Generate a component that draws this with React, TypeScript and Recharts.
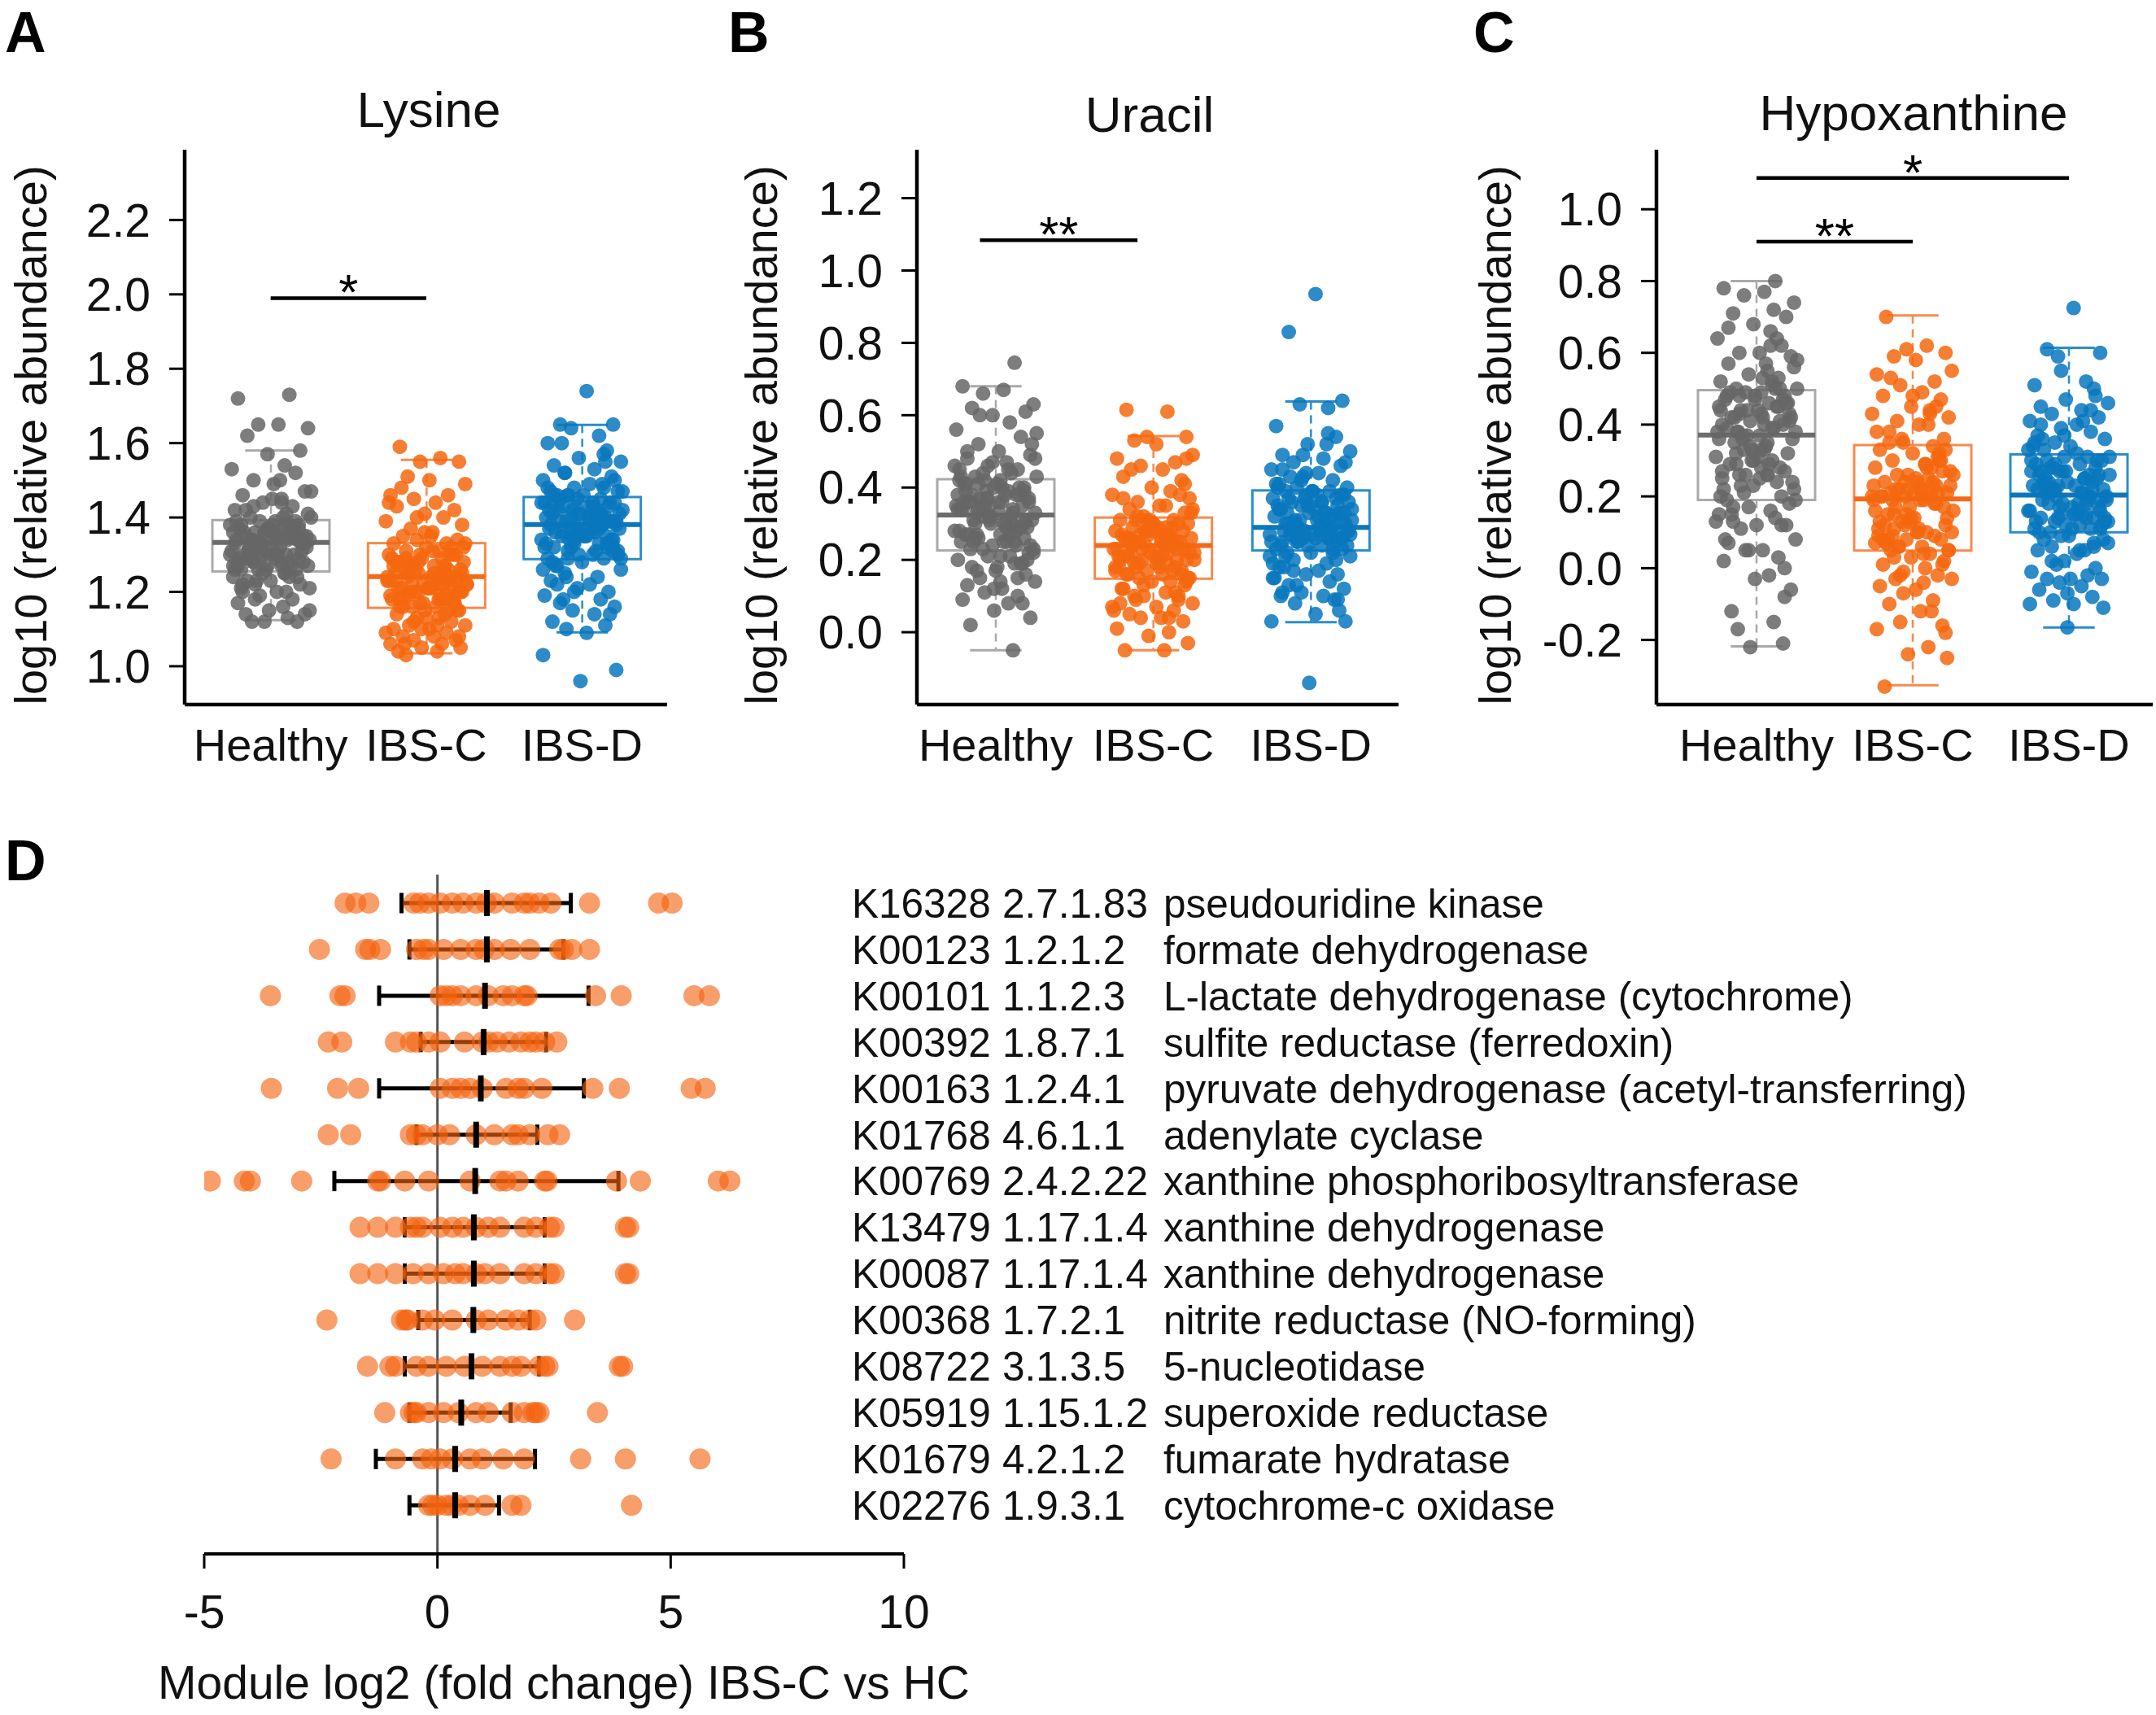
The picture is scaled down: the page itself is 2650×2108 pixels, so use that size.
import React from 'react';
import { ComposedChart, Scatter, Bar, XAxis, YAxis, ReferenceLine, ErrorBar } from 'recharts';

const FONT = '"Liberation Sans", Arial, Helvetica, sans-serif';

const GROUPS = ['Healthy', 'IBS-C', 'IBS-D'];

// hand-estimated horizontal jitter of the points (category units)
const JIT_1 = [0.12,-0.21,0.05,-0.08,0.24,-0.15,0.19,-0.02,0.09,-0.25,0.16,-0.11,0.02,0.22,-0.18,0.07,-0.05,0.14,-0.23,0.1,-0.13,0.26,-0.07,0.03,-0.19,0.18,-0.01,0.08,-0.24,0.13,-0.1,0.21,-0.16,0.04,-0.04,0.17,-0.22,0.11,-0.12,0.25,-0.06,0.01,-0.2,0.15,-0.09,0.23,-0.14,0.06,-0.03,0.2,-0.26,0.1,-0.17,0.03,0.18,-0.11,0.07,-0.22,0.13,-0.02,0.24,-0.08,0.16,-0.19,0.05,-0.13,0.21,-0.05,0.09,-0.24,0.12,-0.15,0.0,0.19,-0.1,0.25,-0.18,0.04,-0.07,0.14,-0.21,0.08,-0.01,0.22,-0.16,0.11,-0.12,0.17,-0.04,0.02,-0.23,0.15];
const JIT_2 = [-0.17,0.09,-0.04,0.21,-0.12,0.02,0.25,-0.23,0.14,-0.08,0.06,-0.19,0.18,-0.01,0.11,-0.26,0.23,-0.1,0.04,-0.15,0.2,-0.06,0.13,-0.21,0.0,0.16,-0.13,0.08,-0.24,0.19,-0.03,0.1,-0.18,0.24,-0.09,0.05,-0.14,0.22,-0.05,0.12,-0.2,0.03,0.17,-0.11,0.07,-0.25,0.15,-0.02,0.26,-0.16,0.01,-0.07,0.21,-0.12,0.09,-0.22,0.14,-0.04,0.18,-0.17,0.06,-0.09,0.23,-0.14,0.03,-0.24,0.11,-0.01,0.2,-0.19,0.08,-0.06,0.16,-0.11,0.25,-0.21,0.02,0.13,-0.15,0.05,-0.08,0.19,-0.23,0.1,-0.03,0.22,-0.18,0.07,-0.13,0.15,-0.05,0.12];
const JIT_3 = [0.03,-0.14,0.2,-0.07,0.11,-0.22,0.16,-0.02,0.25,-0.18,0.08,-0.11,0.19,-0.25,0.05,-0.05,0.14,-0.2,0.23,-0.09,0.01,-0.16,0.12,-0.03,0.21,-0.24,0.07,-0.12,0.17,-0.06,0.26,-0.19,0.1,-0.01,0.15,-0.23,0.04,-0.1,0.22,-0.15,0.09,-0.04,0.18,-0.21,0.13,-0.08,0.24,-0.17,0.06,-0.13,0.02,-0.26,0.2,-0.05,0.11,-0.18,0.16,-0.09,0.23,-0.02,0.07,-0.22,0.14,-0.12,0.19,-0.07,0.0,-0.16,0.25,-0.11,0.1,-0.2,0.05,-0.03,0.17,-0.24,0.12,-0.14,0.21,-0.06,0.08,-0.19,0.15,-0.1,0.03,-0.25,0.22,-0.01,0.13,-0.15];

// ---------- Panel A: Lysine ----------
const LYS_HEALTHY = [1.73,1.72,1.65,1.65,1.64,1.62,1.58,1.57,1.54,1.53,1.52,1.5,1.49,1.47,1.46,1.45,1.44,1.43,1.42,1.41,1.4,1.4,
  1.39,1.39,1.38,1.38,1.37,1.37,1.36,1.36,1.36,1.35,1.35,1.35,1.35,1.34,1.34,1.34,1.34,1.34,1.33,1.38,1.37,1.36,
  1.33,1.32,1.32,1.32,1.31,1.31,1.3,1.3,1.3,1.29,1.29,1.28,1.28,1.28,1.27,1.27,1.27,1.26,1.26,1.26,1.31,1.29,1.28,
  1.25,1.25,1.24,1.24,1.23,1.23,1.22,1.22,1.21,1.2,1.2,1.19,1.18,1.17,1.16,1.15,1.14,1.14,1.13,1.12,1.12,1.12,
  1.36,1.33,1.3,1.38,1.27,1.35,1.32,1.41,1.29,1.34,1.37,1.25,1.31,1.39,1.28,1.36,1.33,1.22,1.44,1.3,1.35,1.26,1.38,1.32,1.47,1.29,1.34,1.21,1.37,1.31,
  1.4,1.27,1.35,1.18,1.33,1.42,1.3,1.36,1.24,1.39,1.28,1.34,1.15,1.32,1.45,1.29,1.37,1.23,1.35,1.31,1.5,1.26,1.33,1.38,1.2,1.36,1.3,1.34,1.43,1.27];
const LYS_IBSC = [1.59,1.56,1.55,1.55,1.51,1.5,1.49,1.46,1.46,1.45,1.44,1.43,1.42,1.41,1.4,1.39,1.38,1.37,1.36,1.35,1.34,1.34,
  1.33,1.33,1.32,1.32,1.31,1.31,1.3,1.3,1.29,1.29,1.28,1.28,1.27,1.27,1.26,1.26,1.25,1.25,1.25,1.24,1.3,1.28,
  1.24,1.23,1.23,1.22,1.22,1.21,1.21,1.2,1.2,1.19,1.19,1.18,1.18,1.17,1.17,1.16,1.16,1.22,1.2,1.19,1.21,1.23,1.18,
  1.15,1.15,1.14,1.13,1.13,1.12,1.11,1.11,1.1,1.1,1.09,1.08,1.08,1.07,1.07,1.06,1.06,1.05,1.05,1.04,1.04,1.03,
  1.24,1.2,1.27,1.18,1.22,1.3,1.15,1.25,1.21,1.33,1.19,1.26,1.12,1.23,1.28,1.17,1.36,1.22,1.09,1.25,1.2,1.31,1.16,1.24,1.4,1.19,1.27,1.13,1.22,1.29,
  1.18,1.44,1.23,1.1,1.26,1.21,1.32,1.16,1.25,1.06,1.2,1.28,1.14,1.23,1.35,1.19,1.27,1.11,1.24,1.3,1.17,1.22,1.48,1.21,1.26,1.08,1.24,1.18,1.29,1.15];
const LYS_IBSD = [1.74,1.65,1.65,1.64,1.62,1.6,1.58,1.56,1.55,1.54,1.53,1.52,1.51,1.5,1.49,1.48,1.48,1.47,1.47,1.46,1.46,1.46,
  1.45,1.45,1.44,1.44,1.43,1.43,1.43,1.42,1.42,1.41,1.41,1.41,1.4,1.4,1.4,1.39,1.39,1.39,1.38,1.38,1.44,1.42,
  1.38,1.37,1.37,1.36,1.36,1.35,1.35,1.34,1.34,1.33,1.33,1.32,1.32,1.31,1.31,1.3,1.3,1.29,1.29,1.36,1.34,1.32,
  1.28,1.27,1.26,1.25,1.24,1.23,1.22,1.21,1.2,1.19,1.18,1.17,1.16,1.15,1.14,1.12,1.11,1.1,1.09,1.03,0.99,0.96,
  1.38,1.42,1.35,1.45,1.31,1.4,1.37,1.48,1.33,1.41,1.29,1.44,1.36,1.52,1.39,1.26,1.43,1.34,1.57,1.38,1.3,1.46,1.35,1.22,1.41,1.37,1.5,1.32,1.44,1.18,
  1.39,1.35,1.47,1.28,1.42,1.36,1.55,1.33,1.4,1.24,1.38,1.45,1.31,1.43,1.14,1.37,1.49,1.34,1.41,1.27,1.39,1.6,1.36,1.44,1.32,1.2,1.4,1.46,1.35,1.29];
// [lower whisker, Q1, median, Q3, upper whisker]
const LYS_STATS = [[1.124,1.255,1.333,1.393,1.58],[1.035,1.157,1.241,1.331,1.555],[1.091,1.288,1.381,1.455,1.649]];
const LYS_TICKS = [1.0,1.2,1.4,1.6,1.8,2.0,2.2];
const LYS_DOMAIN = [0.897, 2.389];
const LYS_SIG = [{ from: 1, to: 2, y: 1.99, mark: '*' }];

// ---------- Panel B: Uracil ----------
const URA_HEALTHY = [0.745,0.68,0.67,0.66,0.63,0.62,0.61,0.6,0.58,0.56,0.54,0.52,0.5,0.49,0.48,0.47,0.46,0.45,0.45,0.44,0.43,0.43,
  0.42,0.42,0.41,0.4,0.4,0.39,0.38,0.38,0.37,0.37,0.36,0.36,0.35,0.35,0.34,0.34,0.33,0.33,0.39,0.41,0.36,0.38,
  0.32,0.31,0.31,0.3,0.3,0.29,0.28,0.28,0.27,0.27,0.26,0.26,0.25,0.25,0.24,0.24,0.23,0.23,0.29,0.27,0.25,0.3,
  0.22,0.21,0.21,0.2,0.19,0.18,0.17,0.16,0.15,0.14,0.13,0.12,0.11,0.1,0.09,0.08,0.06,0.04,0.02,-0.05,0.17,0.19,
  0.32,0.36,0.28,0.4,0.25,0.34,0.3,0.44,0.22,0.38,0.31,0.47,0.27,0.35,0.19,0.41,0.33,0.24,0.5,0.29,0.37,0.15,0.42,0.32,0.26,0.55,0.35,0.21,0.39,0.3,
  0.12,0.45,0.34,0.28,0.6,0.36,0.23,0.4,0.31,0.08,0.43,0.33,0.27,0.48,0.37,0.18,0.41,0.29,0.35,0.52,0.25,0.38,0.32,0.2,0.46,0.3,0.36,0.14,0.39,0.34];
const URA_IBSC = [0.615,0.61,0.54,0.54,0.53,0.52,0.49,0.48,0.47,0.46,0.45,0.43,0.42,0.4,0.39,0.38,0.37,0.36,0.35,0.34,0.33,0.32,
  0.31,0.31,0.3,0.3,0.29,0.29,0.28,0.28,0.27,0.27,0.26,0.26,0.25,0.25,0.24,0.3,0.28,0.26,0.27,0.29,0.25,0.31,
  0.24,0.23,0.23,0.22,0.22,0.21,0.21,0.2,0.2,0.19,0.19,0.18,0.18,0.17,0.17,0.16,0.16,0.15,0.15,0.22,0.2,0.18,
  0.14,0.14,0.13,0.12,0.11,0.1,0.1,0.09,0.08,0.08,0.07,0.06,0.05,0.04,0.04,0.03,0.01,0.0,-0.01,-0.03,-0.05,-0.05,
  0.24,0.2,0.28,0.17,0.26,0.22,0.31,0.14,0.25,0.19,0.34,0.23,0.11,0.27,0.21,0.37,0.16,0.29,0.24,0.07,0.22,0.32,0.18,0.26,0.41,0.13,0.24,0.2,0.3,0.09,
  0.25,0.35,0.17,0.23,0.28,0.04,0.21,0.33,0.19,0.26,0.45,0.15,0.24,0.29,0.12,0.22,0.38,0.18,0.27,0.06,0.25,0.31,0.2,0.16,0.28,0.23,0.48,0.1,0.26,0.21];
const URA_IBSD = [0.935,0.83,0.64,0.63,0.62,0.57,0.54,0.52,0.5,0.49,0.48,0.47,0.46,0.45,0.44,0.43,0.42,0.41,0.4,0.4,0.39,0.39,
  0.39,0.38,0.38,0.37,0.36,0.36,0.35,0.35,0.34,0.34,0.33,0.33,0.32,0.32,0.31,0.31,0.3,0.3,0.29,0.37,0.33,0.35,
  0.29,0.29,0.28,0.28,0.28,0.27,0.27,0.27,0.26,0.26,0.26,0.25,0.25,0.25,0.24,0.24,0.24,0.23,0.23,0.28,0.26,0.27,
  0.22,0.21,0.21,0.2,0.19,0.18,0.17,0.16,0.16,0.15,0.14,0.13,0.12,0.11,0.1,0.1,0.09,0.08,0.05,0.03,0.03,-0.14,
  0.29,0.33,0.26,0.37,0.23,0.31,0.28,0.41,0.2,0.35,0.27,0.45,0.3,0.17,0.38,0.25,0.32,0.49,0.22,0.34,0.28,0.13,0.39,0.3,0.26,0.44,0.33,0.19,0.36,0.29,
  0.09,0.42,0.31,0.24,0.52,0.35,0.27,0.15,0.38,0.3,0.47,0.22,0.33,0.28,0.06,0.4,0.32,0.25,0.36,0.18,0.29,0.43,0.34,0.21,0.31,0.27,0.55,0.11,0.37,0.26];
const URA_STATS = [[-0.05,0.226,0.324,0.423,0.68],[-0.05,0.148,0.24,0.317,0.542],[0.028,0.226,0.29,0.392,0.638]];
const URA_TICKS = [0.0,0.2,0.4,0.6,0.8,1.0,1.2];
const URA_DOMAIN = [-0.2, 1.334];
const URA_SIG = [{ from: 0.9, to: 1.9, y: 1.084, mark: '**' }];

// ---------- Panel C: Hypoxanthine ----------
const HYP_HEALTHY = [0.8,0.78,0.77,0.76,0.74,0.71,0.7,0.68,0.66,0.64,0.62,0.6,0.6,0.59,0.57,0.55,0.54,0.53,0.52,0.51,0.5,0.5,
  0.49,0.49,0.48,0.48,0.47,0.46,0.45,0.45,0.44,0.43,0.42,0.42,0.41,0.4,0.4,0.39,0.38,0.38,0.37,0.44,0.47,0.41,
  0.37,0.36,0.35,0.34,0.33,0.32,0.31,0.3,0.29,0.28,0.27,0.26,0.26,0.25,0.24,0.23,0.22,0.21,0.2,0.19,0.33,0.29,
  0.18,0.17,0.16,0.15,0.14,0.13,0.12,0.12,0.11,0.08,0.07,0.05,0.05,0.03,0.02,-0.02,-0.03,-0.06,-0.12,-0.15,-0.17,-0.21,-0.22,
  0.37,0.44,0.28,0.5,0.22,0.4,0.33,0.56,0.17,0.46,0.3,0.62,0.38,0.12,0.48,0.25,0.42,0.67,0.35,0.05,0.45,0.2,0.52,0.32,0.58,0.26,0.43,0.39,0.0,0.48,
  0.29,0.36,0.64,0.23,0.41,0.15,0.53,0.34,0.47,0.27,0.72,0.38,0.19,0.44,0.31,0.08,0.5,0.36,0.24,0.42,0.57,0.3,0.46,0.13,0.39,0.49,0.33,-0.08,0.43,0.26];
const HYP_IBSC = [0.7,0.62,0.61,0.6,0.59,0.58,0.55,0.54,0.52,0.51,0.49,0.48,0.47,0.45,0.44,0.43,0.42,0.41,0.4,0.38,0.36,0.35,
  0.34,0.33,0.32,0.31,0.3,0.29,0.28,0.27,0.26,0.25,0.24,0.23,0.22,0.22,0.21,0.21,0.2,0.2,0.2,0.24,0.3,0.22,
  0.19,0.19,0.18,0.17,0.16,0.15,0.14,0.13,0.12,0.11,0.1,0.09,0.09,0.08,0.08,0.07,0.06,0.06,0.05,0.05,0.1,0.07,
  0.04,0.03,0.02,0.01,0.0,-0.01,-0.02,-0.03,-0.03,-0.05,-0.06,-0.09,-0.1,-0.12,-0.15,-0.16,-0.17,-0.22,-0.24,-0.25,-0.33,-0.04,
  0.19,0.23,0.12,0.28,0.07,0.21,0.15,0.33,0.03,0.25,0.1,0.38,0.18,-0.02,0.22,0.08,0.3,0.14,0.43,0.2,0.05,0.26,0.11,0.35,0.17,-0.07,0.24,0.13,0.48,0.21,
  0.09,0.29,0.16,0.01,0.22,0.4,0.12,0.27,0.06,0.19,0.53,0.14,0.24,-0.12,0.2,0.1,0.32,0.17,0.04,0.23,0.45,0.13,0.26,0.08,0.21,0.36,-0.18,0.15,0.28,0.11];
const HYP_IBSD = [0.725,0.61,0.6,0.59,0.52,0.51,0.5,0.47,0.46,0.45,0.44,0.43,0.42,0.41,0.4,0.39,0.38,0.37,0.36,0.35,0.34,0.33,
  0.31,0.31,0.3,0.3,0.29,0.28,0.28,0.27,0.26,0.26,0.25,0.24,0.24,0.23,0.23,0.22,0.22,0.21,0.21,0.27,0.25,0.29,
  0.2,0.2,0.19,0.19,0.18,0.18,0.17,0.16,0.16,0.15,0.15,0.14,0.14,0.13,0.13,0.12,0.12,0.11,0.11,0.1,0.17,0.14,
  0.09,0.08,0.07,0.06,0.05,0.05,0.04,0.02,0.0,-0.01,-0.02,-0.03,-0.03,-0.04,-0.05,-0.06,-0.08,-0.09,-0.1,-0.1,-0.11,-0.165,
  0.2,0.25,0.15,0.3,0.11,0.23,0.18,0.35,0.07,0.27,0.13,0.4,0.21,0.02,0.26,0.16,0.32,0.09,0.44,0.22,0.14,0.29,-0.03,0.24,0.19,0.37,0.12,0.27,0.05,0.21,
  0.48,0.17,0.31,0.1,0.25,-0.07,0.22,0.34,0.15,0.28,0.08,0.23,0.41,0.18,0.3,0.13,0.26,0.01,0.2,0.36,0.16,0.24,0.11,0.33,0.19,0.55,0.14,0.27,0.06,0.22];
const HYP_STATS = [[-0.218,0.19,0.371,0.496,0.8],[-0.326,0.049,0.193,0.343,0.704],[-0.165,0.1,0.204,0.317,0.614]];
const HYP_TICKS = [-0.2,0.0,0.2,0.4,0.6,0.8,1.0];
const HYP_DOMAIN = [-0.38, 1.166];
const HYP_SIG = [{ from: 1, to: 2, y: 0.91, mark: '**' }, { from: 1, to: 3, y: 1.087, mark: '*' }];

// ---------- Panel D ----------
const KO_IDS = ['K16328','K00123','K00101','K00392','K00163','K01768','K00769','K13479','K00087','K00368','K08722','K05919','K01679','K02276'];
const EC_NUMS = ['2.7.1.83','1.2.1.2','1.1.2.3','1.8.7.1','1.2.4.1','4.6.1.1','2.4.2.22','1.17.1.4','1.17.1.4','1.7.2.1','3.1.3.5','1.15.1.2','4.2.1.2','1.9.3.1'];
const ENZYMES = ['pseudouridine kinase','formate dehydrogenase','L-lactate dehydrogenase (cytochrome)','sulfite reductase (ferredoxin)','pyruvate dehydrogenase (acetyl-transferring)','adenylate cyclase','xanthine phosphoribosyltransferase','xanthine dehydrogenase','xanthine dehydrogenase','nitrite reductase (NO-forming)','5-nucleotidase','superoxide reductase','fumarate hydratase','cytochrome-c oxidase'];
const FC_POINTS = [
  [-1.98,-1.75,-1.47,-0.51,-0.38,-0.19,0.06,0.32,0.55,0.83,1.05,1.22,1.6,1.86,1.98,2.18,2.43,3.26,4.74,5.03],
  [-2.53,-1.54,-1.45,-1.22,-0.45,-0.3,-0.19,0.13,0.5,0.83,1.0,1.22,1.57,1.98,2.62,2.7,2.88,3.26],
  [-3.58,-2.09,-1.98,0.06,0.19,0.32,0.5,0.83,1.09,1.41,1.6,1.86,1.92,3.39,3.94,5.5,5.83],
  [-2.34,-2.05,-0.9,-0.58,-0.45,-0.19,0.06,0.58,0.96,1.1,1.28,1.54,1.79,1.98,2.11,2.3,2.56],
  [-3.56,-2.14,-1.69,0.06,0.32,0.5,0.7,0.96,1.47,1.73,1.86,2.24,3.33,3.9,5.44,5.74],
  [-2.34,-1.86,-0.58,-0.45,-0.32,0,0.26,0.83,1.22,1.6,1.73,1.98,2.37,2.62],
  [-4.87,-4.14,-4.01,-2.91,-1.28,-1.22,-0.7,-0.19,0.7,1.34,1.47,1.73,2.3,2.35,3.84,4.35,6.02,6.27],
  [-1.66,-1.28,-0.9,-0.58,-0.45,-0.32,0.06,0.32,0.55,0.83,1.09,1.34,1.86,2.11,2.4,2.5,4.03,4.1],
  [-1.66,-1.28,-0.9,-0.52,-0.19,0.13,0.38,0.55,0.83,1.02,1.34,1.86,2.11,2.4,2.5,4.03,4.1],
  [-2.37,-0.77,-0.68,-0.64,-0.32,-0.06,0.32,0.83,1.09,1.47,1.73,1.98,2.11,2.94],
  [-1.5,-1.02,-0.9,-0.45,-0.19,0.19,0.58,0.96,1.34,1.6,1.79,2.18,2.3,2.37,3.9,3.97],
  [-1.13,-0.58,-0.5,-0.45,-0.19,0.13,0.45,0.83,1.09,1.6,1.86,2.05,2.11,2.18,3.43],
  [-2.28,-0.9,-0.32,-0.13,0.06,0.32,0.7,0.96,1.41,1.86,3.07,4.03,5.63],
  [-0.19,-0.1,0,0.19,0.3,0.45,0.7,1.02,1.6,1.79,4.16],
];
const FC_MEAN = [1.06,1.06,1.02,0.99,0.93,0.83,0.81,0.78,0.78,0.77,0.73,0.51,0.38,0.38];
const FC_LOW = [-0.77,-0.6,-1.25,-0.36,-1.25,-0.45,-2.21,-0.7,-0.7,-0.41,-0.7,-0.6,-1.32,-0.6];
const FC_HIGH = [2.86,2.7,3.24,2.33,3.14,2.14,3.88,2.3,2.3,1.98,2.18,1.57,2.09,1.32];
const FC_TICKS = [-5, 0, 5, 10];

// ---------- styles ----------
const DOT_COLORS = ['#666666', '#f5670f', '#0877bd'];
const BOX_COLORS = ['#a9a9a9', '#f78a4c', '#2a8dcb'];
const MED_COLORS = ['#6c6c6c', '#f26a1a', '#0c77ba'];
const JITTERS = [JIT_1, JIT_2, JIT_3];

function BoxShape(props: any) {
  const { x, y, width, height, payload, index } = props;
  const [lo, q1, med, q3, hi] = payload.stats;
  const top = Math.min(y, y + height);
  const h = Math.abs(height);
  const py = (v: number) => top + ((hi - v) / (hi - lo)) * h;
  const cx = x + width / 2;
  const cap = width * 0.22;
  const c = BOX_COLORS[index];
  return (
    <g>
      <line x1={cx} x2={cx} y1={py(hi)} y2={py(q3)} stroke={c} strokeWidth={2.5} strokeDasharray="10 7" />
      <line x1={cx} x2={cx} y1={py(q1)} y2={py(lo)} stroke={c} strokeWidth={2.5} strokeDasharray="10 7" />
      <line x1={cx - cap} x2={cx + cap} y1={py(hi)} y2={py(hi)} stroke={c} strokeWidth={3} />
      <line x1={cx - cap} x2={cx + cap} y1={py(lo)} y2={py(lo)} stroke={c} strokeWidth={3} />
      <rect x={x} y={py(q3)} width={width} height={py(q1) - py(q3)} fill="none" stroke={c} strokeWidth={3} />
      <line x1={x} x2={x + width} y1={py(med)} y2={py(med)} stroke={MED_COLORS[index]} strokeWidth={6} />
    </g>
  );
}

type PanelProps = {
  left: number; width: number; axisW: number; marginRight: number;
  pad: { left: number; right: number };
  domain: number[]; ticks: number[]; values: number[][]; stats: number[][];
  sig: { from: number; to: number; y: number; mark: string }[];
};

function BoxPanel({ left, width, axisW, marginRight, pad, domain, ticks, values, stats, sig }: PanelProps) {
  const boxes = GROUPS.map((name, i) => ({ name, range: [stats[i][0], stats[i][4]], stats: stats[i] }));
  return (
    <div style={{ position: 'absolute', left, top: 0 }}>
      <ComposedChart width={width} height={1000} data={boxes} margin={{ top: 184, right: marginRight, bottom: 0, left: 0 }}>
        <XAxis xAxisId="c" dataKey="name" type="category" height={134} padding={pad} interval={0}
          axisLine={{ stroke: '#000', strokeWidth: 4.5 }} tickLine={false} tickSize={0} tickMargin={29}
          tick={{ fontSize: 56, fill: '#111', fontFamily: FONT }} />
        <XAxis xAxisId="j" dataKey="x" type="number" domain={[0.5, 3.5]} padding={pad} hide allowDataOverflow />
        <YAxis type="number" domain={domain} ticks={ticks} width={axisW} allowDataOverflow interval={0}
          axisLine={{ stroke: '#000', strokeWidth: 4.5 }} tickLine={{ stroke: '#000', strokeWidth: 3 }}
          tickSize={19} tickMargin={23} tick={{ fontSize: 57, fill: '#111', fontFamily: FONT }}
          tickFormatter={(v: number) => v.toFixed(1)} />
        {values.map((vals, g) => (
          <Scatter key={g} xAxisId="j" dataKey="y" isAnimationActive={false}
            data={vals.map((v, i) => ({ x: g + 1 + JITTERS[g][i % JITTERS[g].length], y: v }))}
            shape={(p: any) => <circle cx={p.cx} cy={p.cy} r={9} fill={DOT_COLORS[g]} fillOpacity={0.85} />} />
        ))}
        <Bar xAxisId="c" dataKey="range" barSize={144} shape={BoxShape} isAnimationActive={false} />
        {sig.map((s, k) => (
          <ReferenceLine key={k} xAxisId="j" ifOverflow="visible"
            segment={[{ x: s.from, y: s.y }, { x: s.to, y: s.y }]} stroke="#000" strokeWidth={4.5}
            label={{ value: s.mark, position: 'top', offset: -14, fontSize: 62, fill: '#000', fontFamily: FONT }} />
        ))}
      </ComposedChart>
    </div>
  );
}

function RowLabel(props: any) {
  const { x, y, payload } = props;
  const i = payload.value;
  const st = { fontSize: 49.5, fill: '#111', fontFamily: FONT };
  return (
    <g>
      <text x={x - 64} y={y} dy="0.36em" {...st}>{KO_IDS[i]}</text>
      <text x={x + 121} y={y} dy="0.36em" {...st}>{EC_NUMS[i]}</text>
      <text x={x + 319} y={y} dy="0.36em" {...st}>{ENZYMES[i]}</text>
    </g>
  );
}

function FoldPanel() {
  const dots = FC_POINTS.flatMap((vals, row) => vals.map((v) => ({ x: v, y: row })));
  const means = FC_MEAN.map((m, row) => ({ x: m, y: row, err: [m - FC_LOW[row], FC_HIGH[row] - m] }));
  const rows = KO_IDS.map((_, i) => i);
  return (
    <div style={{ position: 'absolute', left: 0, top: 1000 }}>
      <ComposedChart width={2650} height={1108} margin={{ top: 75, right: 0, bottom: 0, left: 251 }}>
        <XAxis dataKey="x" type="number" domain={[-5, 10]} ticks={FC_TICKS} height={198} allowDataOverflow interval={0}
          axisLine={{ stroke: '#000', strokeWidth: 4 }} tickLine={{ stroke: '#000', strokeWidth: 3 }}
          tickSize={18} tickMargin={33} tick={{ fontSize: 57, fill: '#111', fontFamily: FONT }} />
        <YAxis orientation="right" type="number" domain={[-0.615, 14.05]} reversed ticks={rows} width={1539}
          allowDataOverflow interval={0} axisLine={false} tickLine={false} tickSize={0} tickMargin={0}
          tick={(p: any) => <RowLabel {...p} />} />
        <ReferenceLine x={0} stroke="#555" strokeWidth={3} />
        <Scatter data={dots} dataKey="y" isAnimationActive={false}
          shape={(p: any) => <circle cx={p.cx} cy={p.cy} r={13} fill="#f3620f" fillOpacity={0.62} />} />
        <Scatter data={means} dataKey="y" isAnimationActive={false}
          shape={(p: any) => <line x1={p.cx} x2={p.cx} y1={p.cy - 16} y2={p.cy + 16} stroke="#000" strokeWidth={7} />}>
          <ErrorBar dataKey="err" direction="x" width={12.5} stroke="#000" strokeWidth={5} isAnimationActive={false} />
        </Scatter>
      </ComposedChart>
    </div>
  );
}

export default function App() {
  return (
    <div style={{ position: 'absolute', left: 0, top: 0, width: 2650, height: 2108, background: '#fff', fontFamily: FONT }}>
      <BoxPanel left={0} width={880} axisW={227} marginRight={60} pad={{ left: 10, right: 9 }}
        domain={LYS_DOMAIN} ticks={LYS_TICKS} values={[LYS_HEALTHY, LYS_IBSC, LYS_IBSD]} stats={LYS_STATS} sig={LYS_SIG} />
      <BoxPanel left={880} width={900} axisW={247} marginRight={61} pad={{ left: 0, right: 11 }}
        domain={URA_DOMAIN} ticks={URA_TICKS} values={[URA_HEALTHY, URA_IBSC, URA_IBSD]} stats={URA_STATS} sig={URA_SIG} />
      <BoxPanel left={1780} width={870} axisW={256} marginRight={4} pad={{ left: 27, right: 7 }}
        domain={HYP_DOMAIN} ticks={HYP_TICKS} values={[HYP_HEALTHY, HYP_IBSC, HYP_IBSD]} stats={HYP_STATS} sig={HYP_SIG} />
      <FoldPanel />
      <svg width={2650} height={2108} style={{ position: 'absolute', left: 0, top: 0, pointerEvents: 'none' }} fontFamily={FONT}>
        <g fontWeight="bold" fontSize={70} fill="#000">
          <text x={6} y={64}>A</text>
          <text x={895} y={64}>B</text>
          <text x={1811} y={64}>C</text>
          <text x={6} y={1082}>D</text>
        </g>
        <g fontSize={62} fill="#111" textAnchor="middle">
          <text x={527} y={156}>Lysine</text>
          <text x={1413} y={162}>Uracil</text>
          <text x={2352} y={160}>Hypoxanthine</text>
        </g>
        <g fontSize={56} fill="#111" textAnchor="middle">
          <text transform="translate(57,535) rotate(-90)">log10 (relative abundance)</text>
          <text transform="translate(955,535) rotate(-90)">log10 (relative abundance)</text>
          <text transform="translate(1857,535) rotate(-90)">log10 (relative abundance)</text>
          <text x={693} y={2088} fontSize={57}>Module log2 (fold change) IBS-C vs HC</text>
        </g>
      </svg>
    </div>
  );
}
